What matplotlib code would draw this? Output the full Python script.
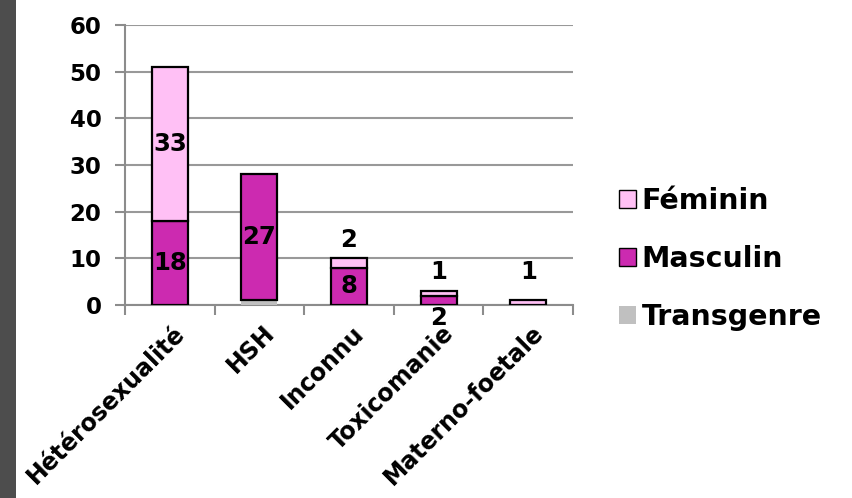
import matplotlib
matplotlib.use("Agg")
import matplotlib.pyplot as plt
import numpy as np
from matplotlib.patches import Rectangle

categories = ["Hétérosexualité", "HSH", "Inconnu", "Toxicomanie", "Materno-foetale"]
transgenre = [0, 1, 0, 0, 0]
masculin = [18, 27, 8, 2, 0]
feminin = [33, 0, 2, 1, 1]
yticks = [0, 10, 20, 30, 40, 50, 60]

col_f = "#FFC0F5"
col_m = "#CC2AB0"
col_t = "#C0C0C0"

plt.rcParams['font.family'] = ['DejaVu Sans']
W = "bold"

fig = plt.figure(figsize=(8.53, 4.98), dpi=100)
fig.patch.set_facecolor("white")
fig.add_artist(Rectangle((0, 0), 16/853, 1, transform=fig.transFigure,
                         facecolor="#4d4d4d", edgecolor="none"))

ax = fig.add_axes([125/853, 1-305/498, (573-125)/853, (305-25)/498])
x = np.arange(len(categories))
w = 0.4
t = np.array(transgenre)
m = np.array(masculin)
f = np.array(feminin)

ax.bar(x, t, w, color=col_t, edgecolor="none", label="Transgenre", zorder=3)
ax.bar(x, m, w, bottom=t, color=col_m, edgecolor="black", linewidth=1.6,
       label="Masculin", zorder=3)
ax.bar(x, f, w, bottom=t+m, color=col_f, edgecolor="black", linewidth=1.6,
       label="Féminin", zorder=3)
for patch in ax.patches:
    if patch.get_height() == 0:
        patch.set_linewidth(0)

ax.set_xlim(-0.5, len(categories)-0.5)
ax.set_ylim(0, 60)
ax.set_yticks(yticks)
ax.set_xticks(np.arange(len(categories)+1) - 0.5)
ax.set_xticklabels([])
ax.yaxis.grid(True, color="#999999", linewidth=1.5, zorder=0)
ax.set_axisbelow(True)
for s in ["top", "right"]:
    ax.spines[s].set_visible(False)
for s in ["left", "bottom"]:
    ax.spines[s].set_color("#8c8c8c")
    ax.spines[s].set_linewidth(1.5)
ax.tick_params(axis="both", direction="out", length=7, width=1.5, color="#8c8c8c")
ax.tick_params(axis="y", labelsize=16.5, pad=10)
for lbl in ax.get_yticklabels():
    lbl.set_fontweight(W)

for i, c in enumerate(categories):
    ax.text(i + 0.03, -3.4, c, rotation=45, ha="right", va="top",
            rotation_mode="anchor", fontsize=17, fontweight=W,
            transform=ax.transData, clip_on=False)

lab_kw = dict(ha="center", va="center", fontsize=17.5, fontweight=W, zorder=5)
masc_y = [t[i] + m[i] / 2 for i in range(len(categories))]
masc_y[3] = -2.7
fem_y = [t[i] + m[i] + f[i] / 2 for i in range(len(categories))]
fem_y[2] = 14
fem_y[3] = 7
fem_y[4] = 7
for i in range(len(categories)):
    if m[i] > 0:
        ax.text(x[i], masc_y[i], str(m[i]), clip_on=False, **lab_kw)
    if f[i] > 0:
        ax.text(x[i], fem_y[i], str(f[i]), clip_on=False, **lab_kw)

handles, labels = ax.get_legend_handles_labels()
order = [2, 1, 0]
leg = fig.legend([handles[k] for k in order], [labels[k] for k in order],
                 loc="center left", bbox_to_anchor=(593/853, 1-259/498),
                 frameon=False, handlelength=0.6, handleheight=0.6,
                 handletextpad=0.2, labelspacing=1.05,
                 prop={"weight": W, "size": 20.5})
for h in leg.legend_handles:
    h.set_linewidth(1.0)

fig.savefig("out.png", dpi=100, facecolor="white")
